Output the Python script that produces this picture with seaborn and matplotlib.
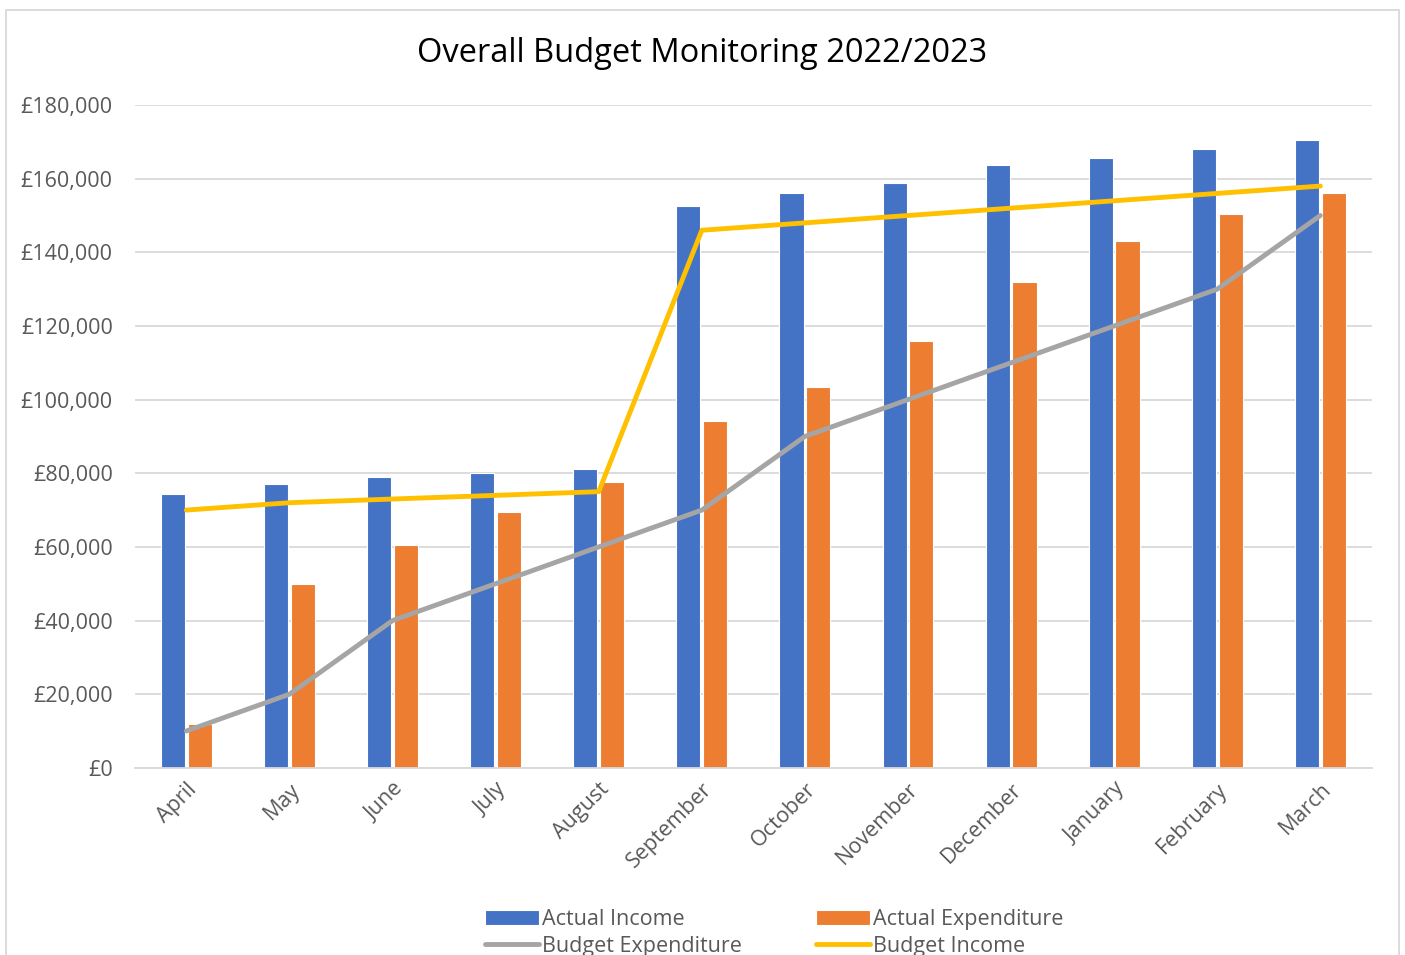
import numpy as np
import pandas as pd
import seaborn as sns
import matplotlib.pyplot as plt
import matplotlib.ticker as mtick
from matplotlib.patches import Rectangle

months = ['April', 'May', 'June', 'July', 'August', 'September', 'October',
          'November', 'December', 'January', 'February', 'March']
actual_income = [74500, 77000, 79000, 80200, 81200, 152500, 156000, 158700,
                 163800, 165500, 168000, 170500]
actual_expenditure = [12000, 50000, 60500, 69500, 77700, 94300, 103300, 116000,
                      132000, 143000, 150500, 156000]
budget_expenditure = [10000, 20000, 40000, 50000, 60000, 70000, 90000, 100000,
                      110000, 120000, 130000, 150000]
budget_income = [70000, 72000, 73000, 74000, 75000, 146000, 148000, 150000,
                 152000, 154000, 156000, 158000]

text_col = '#595959'
sns.set_style('white')
plt.rcParams['font.family'] = ['Open Sans', 'DejaVu Sans']

bars = pd.DataFrame({
    'month': months * 2,
    'value': actual_income + actual_expenditure,
    'series': ['Actual Income'] * 12 + ['Actual Expenditure'] * 12,
})

fig = plt.figure(figsize=(14.05, 9.55), dpi=100)
ax = fig.add_axes([0.096, 0.196, 0.8804, 0.694])

sns.barplot(data=bars, x='month', y='value', hue='series', ax=ax,
            palette=['#4472C4', '#ED7D31'], saturation=1, width=0.52, gap=0.1,
            edgecolor='white', linewidth=0.8, zorder=2)
sns.lineplot(x=months, y=budget_expenditure, ax=ax, color='#A5A5A5',
             linewidth=3.5, label='Budget Expenditure', zorder=3)
sns.lineplot(x=months, y=budget_income, ax=ax, color='#FFC000',
             linewidth=3.5, label='Budget Income', zorder=3)

ax.set_ylim(0, 180000)
ax.set_xlim(-0.5, 11.5)
ax.yaxis.set_major_locator(mtick.MultipleLocator(20000))
ax.yaxis.set_major_formatter(mtick.FuncFormatter(lambda v, p: f'£{v:,.0f}'))
ax.grid(axis='y', color='#D9D9D9', linewidth=1.3, zorder=0)
ax.set_axisbelow(True)
for s in ['top', 'right', 'left']:
    ax.spines[s].set_visible(False)
ax.spines['bottom'].set_color('#D9D9D9')
ax.spines['bottom'].set_linewidth(1.3)
ax.set_xlabel('')
ax.set_ylabel('')
ax.tick_params(axis='both', length=0, labelsize=15.5, labelcolor=text_col)
ax.tick_params(axis='y', pad=16)
ax.tick_params(axis='x', pad=8)
for lbl in ax.get_xticklabels():
    lbl.set_rotation(45)
    lbl.set_ha('right')
    lbl.set_rotation_mode('anchor')

fig.text(0.5, 0.944, 'Overall Budget Monitoring 2022/2023', ha='center',
         va='center', fontsize=23.5, color='black')

h, l = ax.get_legend_handles_labels()
order = ['Actual Income', 'Budget Expenditure', 'Actual Expenditure', 'Budget Income']
hd = dict(zip(l, h))
ax.legend([hd[k] for k in order], order, ncol=2, loc='center',
          bbox_to_anchor=(0.551, 0.023), bbox_transform=fig.transFigure,
          frameon=False, fontsize=15.5, labelcolor=text_col, handlelength=2.5,
          handletextpad=0.15, columnspacing=3.45, labelspacing=0.25)

fig.patches.append(Rectangle((0.004, -0.01), 0.992, 1.0, transform=fig.transFigure,
                             fill=False, edgecolor='#D9D9D9', linewidth=1.3))

fig.savefig('out.png', dpi=100)
